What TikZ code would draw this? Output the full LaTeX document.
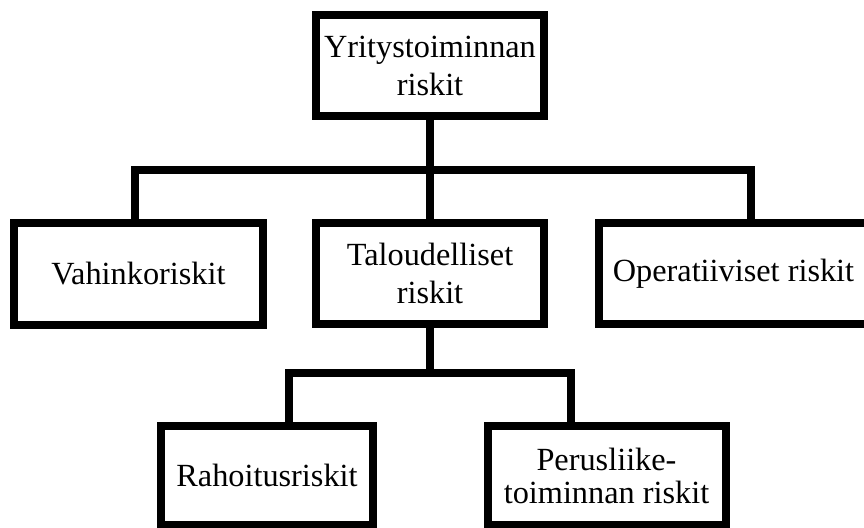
\documentclass[tikz,border=0pt]{standalone}
\usepackage{fontspec}
\setmainfont{Liberation Serif}
\usepackage{tikz}

\tikzset{riskbox/.style={draw, line width=8pt, inner sep=0pt, align=center,
    minimum height=101pt, font=\fontsize{32.3}{38}\selectfont}}

\begin{document}
\begin{tikzpicture}[x=1pt, y=-1pt, line width=8pt, line join=miter]

\useasboundingbox (0,0) rectangle (864,527);
\clip (0,0) rectangle (864,527);

\node[riskbox, minimum width=228pt] (yritys) at (430,65.5) {Yritystoiminnan\\riskit};

\node[riskbox, minimum width=249pt, minimum height=102pt] (vahinko) at (138.5,274) {Vahinkoriskit};
\node[riskbox, minimum width=228pt] (talous) at (430,273.5) {Taloudelliset\\riskit};
\node[riskbox, minimum width=269pt] (operat) at (733.5,273.5) {Operatiiviset riskit};

\node[riskbox, minimum width=212pt, minimum height=99pt] (rahoitus) at (267,475.5) {Rahoitusriskit};
\node[riskbox, minimum width=238pt, minimum height=99pt, font=\fontsize{32.3}{33}\selectfont] (perus) at (606.5,475.5) {Perusliike-\\toiminnan riskit};

% first level
\coordinate (busL) at (134.5,170);
\coordinate (busR) at (751,170);
\draw (yritys.south) -- (talous.north);
\draw (busL |- vahinko.north) -- (busL) -- (busR) -- (busR |- operat.north);

% second level
\coordinate (subL) at (289,373);
\coordinate (subR) at (571,373);
\draw (talous.south) -- (talous.south |- subL);
\draw (subL |- rahoitus.north) -- (subL) -- (subR) -- (subR |- perus.north);

\end{tikzpicture}
\end{document}
